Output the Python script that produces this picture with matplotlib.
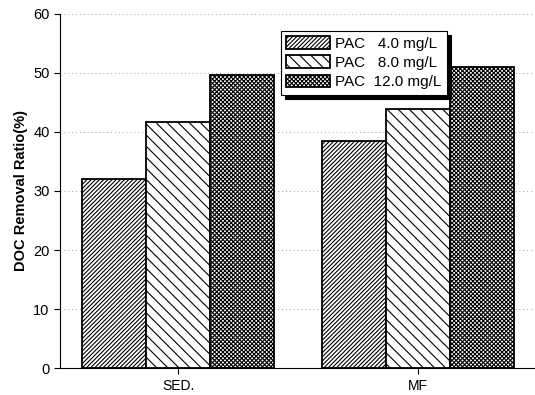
import numpy as np
import matplotlib.pyplot as plt

plt.rcParams['font.family'] = ['Liberation Sans', 'DejaVu Sans']
plt.rcParams['hatch.linewidth'] = 0.8

categories = ['SED.', 'MF']
series = ['PAC   4.0 mg/L', 'PAC   8.0 mg/L', 'PAC  12.0 mg/L']
values = [[32.0, 38.5],
          [41.6, 43.8],
          [49.7, 51.0]]
hatches = ['////////', '\\\\\\', 'xxxxxxxx']

fig = plt.figure(figsize=(5.35, 3.95), dpi=100)
ax = fig.add_axes([0.112, 0.068, 0.888, 0.897])

x = np.arange(len(categories))
w = 0.267
for i, (lab, vals, h) in enumerate(zip(series, values, hatches)):
    ax.bar(x + (i - 1) * w, vals, w, facecolor='white', edgecolor='black',
           hatch=h, linewidth=1.3, label=lab, zorder=2)

ax.set_xlim(-0.492, 1.487)
ax.set_ylim(0, 60)
ax.set_xticks(x)
ax.set_xticklabels(categories, fontsize=10)
ax.set_yticks(np.arange(0, 61, 10))
ax.tick_params(axis='y', labelsize=10.5, direction='out', length=4)
ax.tick_params(axis='x', direction='out', length=4)
ax.yaxis.grid(True, linestyle=(0, (1, 3)), color='#999999', linewidth=0.7, zorder=0)
ax.spines['top'].set_visible(False)
ax.spines['right'].set_visible(False)
ax.set_ylabel('DOC Removal Ratio(%)', fontsize=10.5, fontweight='bold')

leg = ax.legend(loc='upper left', bbox_to_anchor=(0.465, 0.952), fontsize=11,
                fancybox=False, shadow={'color': 'black', 'alpha': 1, 'ox': 3, 'oy': -3},
                edgecolor='black', framealpha=1, handlelength=2.9,
                handleheight=0.9, labelspacing=0.3, handletextpad=0.3,
                borderpad=0.35, borderaxespad=0)
leg.get_frame().set_linewidth(0.8)

fig.savefig('out.png')
